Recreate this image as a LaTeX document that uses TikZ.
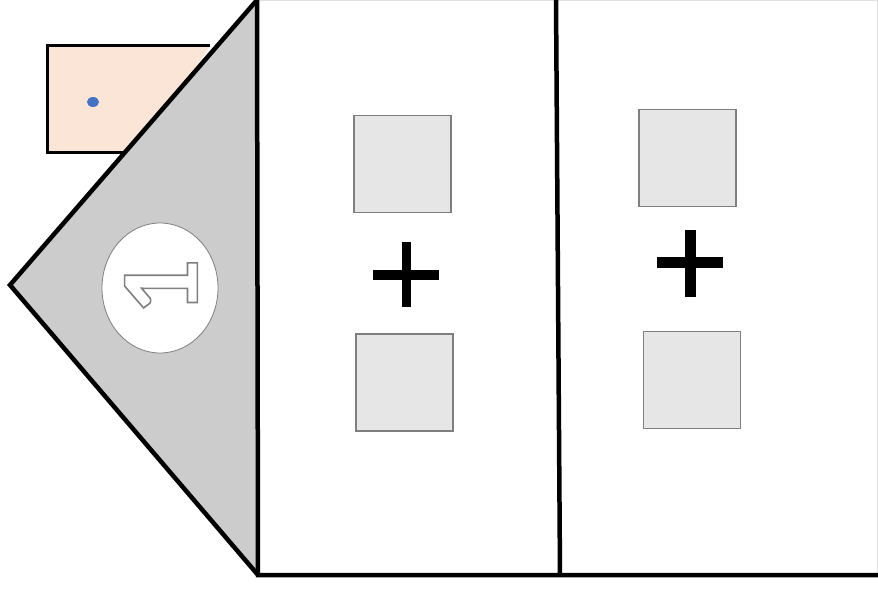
\documentclass[tikz,border=0pt]{standalone}
\usepackage{tikz}
\usepackage{fontspec}
\usetikzlibrary{shapes.geometric}
\newfontfamily\badgefont{Carlito}
\definecolor{tagpink}{HTML}{FBE5D6}
\definecolor{dotblue}{HTML}{4472C4}
\definecolor{wedgegray}{HTML}{CCCCCC}
\definecolor{boxgray}{HTML}{E6E6E6}
\definecolor{edgegray}{HTML}{7F7F7F}

\begin{document}
\begin{tikzpicture}[x=1pt, y=-1pt, thick,
	wall/.style={line width=4.5pt, line join=miter},
	box node/.style={rectangle, draw=edgegray, line width=1.5pt, fill=boxgray, minimum width=97pt, minimum height=97pt, inner sep=0pt},
	plus bar/.style={fill=black, draw=none}]
	\useasboundingbox (0,0) rectangle (878,591);
	% frame of the right panel
	\draw[line width=1pt, black!12] (258,1) -- (877,1) -- (877,575);
	% tag behind the wedge
	\draw[wall, line width=3pt, fill=tagpink] (210,46) -- (47,46) -- (47,153) -- (140,153);
	\node[ellipse, fill=dotblue, minimum width=12pt, minimum height=10pt, inner sep=0pt] (dot) at (93,102) {};
	% wedge
	\coordinate (top) at (257,0);
	\coordinate (tip) at (10,285);
	\coordinate (foot) at (258,575);
	\fill[wedgegray] (top) -- (tip) -- (foot) -- cycle;
	\draw[wall] (top) -- (tip) -- (foot);
	\draw[wall] (top) -- (foot) -- (878,575);
	% divider
	\draw[wall] (556,0) -- (560,575);
	% number badge
	\node[ellipse, draw=edgegray, line width=0.8pt, fill=white, minimum width=116pt, minimum height=130pt, inner sep=0pt] (badge) at (160,288) {};
	\node[rotate=90, text=edgegray, inner sep=0pt, font=\badgefont\bfseries\fontsize{112}{112}\selectfont] (num) at (161,287)
		{\special{pdf:literal 1 Tr 1.6 w}1\special{pdf:literal 0 Tr}};
	% middle panel
	\node[box node] (A) at (402.5,164) {};
	\node[box node] (B) at (404.5,382.5) {};
	\fill[plus bar] (402,242) rectangle (411,307);
	\fill[plus bar] (373,270) rectangle (439,280);
	% right panel
	\node[box node] (C) at (687.5,158) {};
	\node[box node] (D) at (692,380) {};
	\fill[plus bar] (685,230) rectangle (696,297);
	\fill[plus bar] (657,257) rectangle (723,268);
\end{tikzpicture}
\end{document}
